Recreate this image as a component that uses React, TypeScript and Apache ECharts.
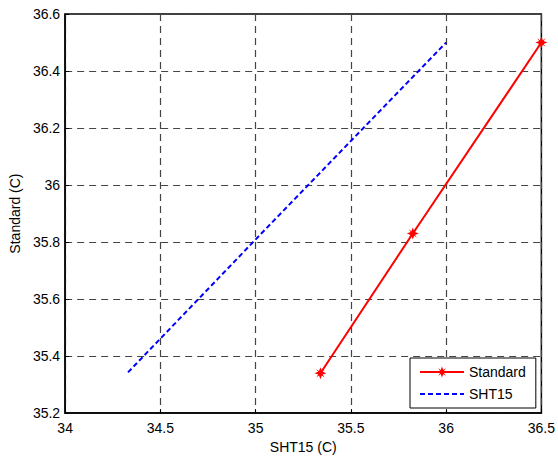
import React, { useEffect, useRef } from "react";
import * as echarts from "echarts";

const standardX = [35.34, 35.825, 36.5];
const standardY = [35.34, 35.83, 36.5];
const sht15X = [34.33, 35.03, 36.0];
const sht15Y = [35.343, 35.83, 36.5];
const xTicks = { min: 34, max: 36.5, interval: 0.5 };
const yTicks = { min: 35.2, max: 36.6, interval: 0.2 };

const starPath =
  "path://M0,-6 L1.4,-2.2 L4.2,-4.2 L2.2,-1.4 L6,0 L2.2,1.4 L4.2,4.2 L1.4,2.2 L0,6 L-1.4,2.2 L-4.2,4.2 L-2.2,1.4 L-6,0 L-2.2,-1.4 L-4.2,-4.2 L-1.4,-2.2 Z";

const FONT = "'Liberation Sans', Arial, sans-serif";

export default function App() {
  const ref = useRef<HTMLDivElement>(null);
  useEffect(() => {
    if (!ref.current) return;
    const chart = echarts.init(ref.current, undefined, { renderer: "svg" });
    const gridLine = {
      show: true,
      lineStyle: { color: "#444", type: [7, 5] as any, width: 1.2 },
    };
    chart.setOption({
      animation: false,
      backgroundColor: "#fff",
      textStyle: { fontFamily: FONT },
      grid: {
        left: 62,
        right: 16,
        top: 14,
        bottom: 45.5,
        show: true,
        borderColor: "#000",
        borderWidth: 1.5,
        backgroundColor: "transparent",
      },
      legend: {
        orient: "vertical",
        left: 410,
        top: 358,
        padding: [7, 10, 7, 9],
        itemWidth: 44,
        itemHeight: 14,
        itemGap: 8,
        backgroundColor: "#fff",
        borderColor: "#000",
        borderWidth: 1,
        borderRadius: 0,
        textStyle: { fontSize: 14, color: "#000", fontFamily: FONT },
        data: [
          { name: "Standard" },
          { name: "SHT15", itemStyle: { opacity: 0 } },
        ],
      },
      xAxis: {
        type: "value",
        min: xTicks.min,
        max: xTicks.max,
        interval: xTicks.interval,
        name: "SHT15 (C)",
        nameLocation: "middle",
        nameGap: 25,
        nameTextStyle: { fontSize: 14, color: "#000", fontFamily: FONT },
        axisLine: { show: true, lineStyle: { color: "#000", width: 1.5 } },
        axisTick: { show: true, inside: true, length: 4, lineStyle: { color: "#000" } },
        axisLabel: { fontSize: 14, color: "#000", margin: 8, fontFamily: FONT },
        splitLine: gridLine,
      },
      yAxis: {
        type: "value",
        min: yTicks.min,
        max: yTicks.max,
        interval: yTicks.interval,
        name: "Standard (C)",
        nameLocation: "middle",
        nameGap: 42,
        nameTextStyle: { fontSize: 14, color: "#000", fontFamily: FONT },
        axisLine: { show: true, lineStyle: { color: "#000", width: 1.5 } },
        axisTick: { show: true, inside: true, length: 4, lineStyle: { color: "#000" } },
        axisLabel: {
          fontSize: 14,
          color: "#000",
          margin: 5,
          fontFamily: FONT,
          formatter: (v: number) => String(Math.round(v * 10) / 10),
        },
        splitLine: gridLine,
      },
      series: [
        {
          name: "Standard",
          type: "line",
          data: standardX.map((x, i) => [x, standardY[i]]),
          symbol: starPath,
          symbolSize: 12,
          showSymbol: true,
          itemStyle: { color: "#ff0000" },
          lineStyle: { color: "#ff0000", width: 2 },
          z: 3,
          clip: false,
        },
        {
          name: "SHT15",
          type: "line",
          data: sht15X.map((x, i) => [x, sht15Y[i]]),
          symbol: "none",
          itemStyle: { color: "#0000ff" },
          lineStyle: { color: "#0000ff", width: 2, type: [5, 3] as any },
          z: 2,
        },
      ],
    });
    return () => chart.dispose();
  }, []);
  return (
    <div
      ref={ref}
      style={{ position: "fixed", left: 0, top: 0, width: 558, height: 459 }}
    />
  );
}
